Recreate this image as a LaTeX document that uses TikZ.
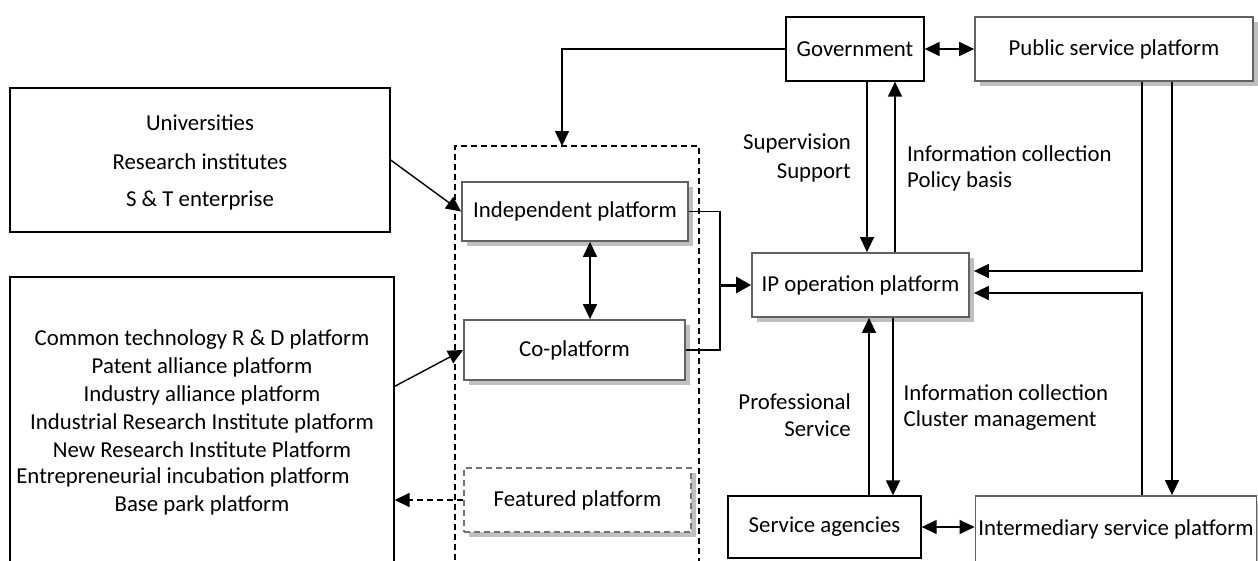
\documentclass[tikz,border=0pt]{standalone}
\usepackage{fontspec}
\setmainfont{Carlito}
\usetikzlibrary{arrows.meta,shadows,calc}
\begin{document}
\begin{tikzpicture}[x=1pt,y=-1pt,
  font=\fontsize{22.8pt}{27.5pt}\selectfont,
  plain/.style={draw=black, line width=1.3pt, fill=white, inner sep=0pt},
  shad/.style={draw=black!62, line width=1.8pt, fill=white, inner sep=0pt,
    drop shadow={shadow xshift=4.5pt, shadow yshift=-4.5pt, fill=black!25, opacity=1}},
  grpbox/.style={draw=black, line width=1.2pt, dash pattern=on 6pt off 4pt, inner sep=0pt},
  lbl/.style={inner sep=0pt},
  tip/.tip={Triangle[length=15pt,width=14pt]},
  arr/.style={-tip, line width=1.4pt},
  darr/.style={tip-tip, line width=1.4pt},
  dashedarr/.style={-tip, line width=1.4pt, dash pattern=on 6pt off 4pt},
  thickarr/.style={-{Triangle[length=15pt,width=16pt]}, line width=3pt}
]
\useasboundingbox (0,0) rectangle (1258,560);
\fill[white] (0,0) rectangle (1258,560);

% left boxes
\node[plain, minimum width=380pt, minimum height=144pt] (uni) at (200,160) {};
\node[lbl] (u1) at (200,122.7) {Universities};
\node[lbl] (u2) at (200,161.7) {Research institutes};
\node[lbl] (u3) at (200,200.7) {S \& T enterprise};

\node[plain, minimum width=384pt, minimum height=323pt] (plat) at (202,438.5) {};
\node[lbl] (p1) at (202,340) {Common technology R \& D platform};
\node[lbl] (p2) at (202,367.7) {Patent alliance platform};
\node[lbl] (p3) at (202,395) {Industry alliance platform};
\node[lbl] (p4) at (202,423) {Industrial Research Institute platform};
\node[lbl] (p5) at (202,450) {New Research Institute Platform};
\node[lbl] (p6) at (183,477) {Entrepreneurial incubation platform};
\node[lbl] (p7) at (202,505) {Base park platform};

% group container
\node[grpbox, minimum width=244pt, minimum height=454pt] (grp) at (577,373) {};
\node[shad, minimum width=226pt, minimum height=59pt] (ind) at (575,211.5) {Independent platform};
\node[shad, minimum width=221pt, minimum height=60pt] (co) at (574.5,350) {Co-platform};
\node[shad, draw=black!55, dash pattern=on 6pt off 4pt, minimum width=227pt, minimum height=64pt] (feat) at (577.5,500) {Featured platform};

% right side
\node[plain, minimum width=138pt, minimum height=64pt] (gov) at (855,49) {Government};
\node[shad, minimum width=278pt, minimum height=64pt] (pub) at (1114,49) {Public service platform};
\node[shad, minimum width=217pt, minimum height=64pt] (ip) at (860.5,285) {IP operation platform};
\node[plain, minimum width=193pt, minimum height=62pt] (sa) at (824.5,527) {Service agencies};
\node[shad, minimum width=281pt, minimum height=66pt] (inter) at (1116,529) {Intermediary service platform};

% labels
\node[lbl, anchor=east] (l1) at (851,143) {Supervision};
\node[lbl, anchor=east] (l2) at (851,173) {Support};
\node[lbl, anchor=west] (l3) at (907,154) {Information collection};
\node[lbl, anchor=west] (l4) at (907,181) {Policy basis};
\node[lbl, anchor=east] (l5) at (851,402) {Professional};
\node[lbl, anchor=east] (l6) at (851,429) {Service};
\node[lbl, anchor=west] (l7) at (903.5,393) {Information collection};
\node[lbl, anchor=west] (l8) at (903.5,421) {Cluster management};

% connectors
\coordinate (gtop) at (562,146);
\draw[arr] (gov.west) -| (gtop);
\draw[arr] (uni.east) -- (ind.west);
\draw[arr] ($(plat.north east)+(0,110)$) -- (co.west);
\draw[dashedarr] (feat.west) -- (feat.west -| plat.east);
\draw[darr] ([xshift=15pt]ind.south) -- ([xshift=15pt]ind.south |- co.north);

\coordinate (jn) at (720,285);
\draw[line width=1.4pt] (ind.east) -| (jn) |- (co.east);
\draw[thickarr] (jn) -- (ip.west);

\draw[darr] (gov.east) -- (gov.east -| pub.west);
\draw[arr] ([xshift=12pt]gov.south) -- ([xshift=12pt]gov.south |- ip.north);
\draw[arr] ([xshift=40pt]gov.south |- ip.north) -- ([xshift=40pt]gov.south);

\draw[arr] ([xshift=44.5pt]sa.north) -- ([xshift=44.5pt]sa.north |- ip.south);
\draw[arr] ([xshift=68.5pt]sa.north |- ip.south) -- ([xshift=68.5pt]sa.north);
\draw[darr] (sa.east) -- (sa.east -| inter.west);

\draw[arr] ([xshift=28pt]pub.south) |- ([xshift=4pt,yshift=14pt]ip.east);
\draw[arr] ([xshift=58pt]pub.south) -- ([xshift=58pt]pub.south |- inter.north);
\draw[arr] ([xshift=26pt]inter.north) |- ([xshift=4pt,yshift=-8pt]ip.east);
\end{tikzpicture}
\end{document}
